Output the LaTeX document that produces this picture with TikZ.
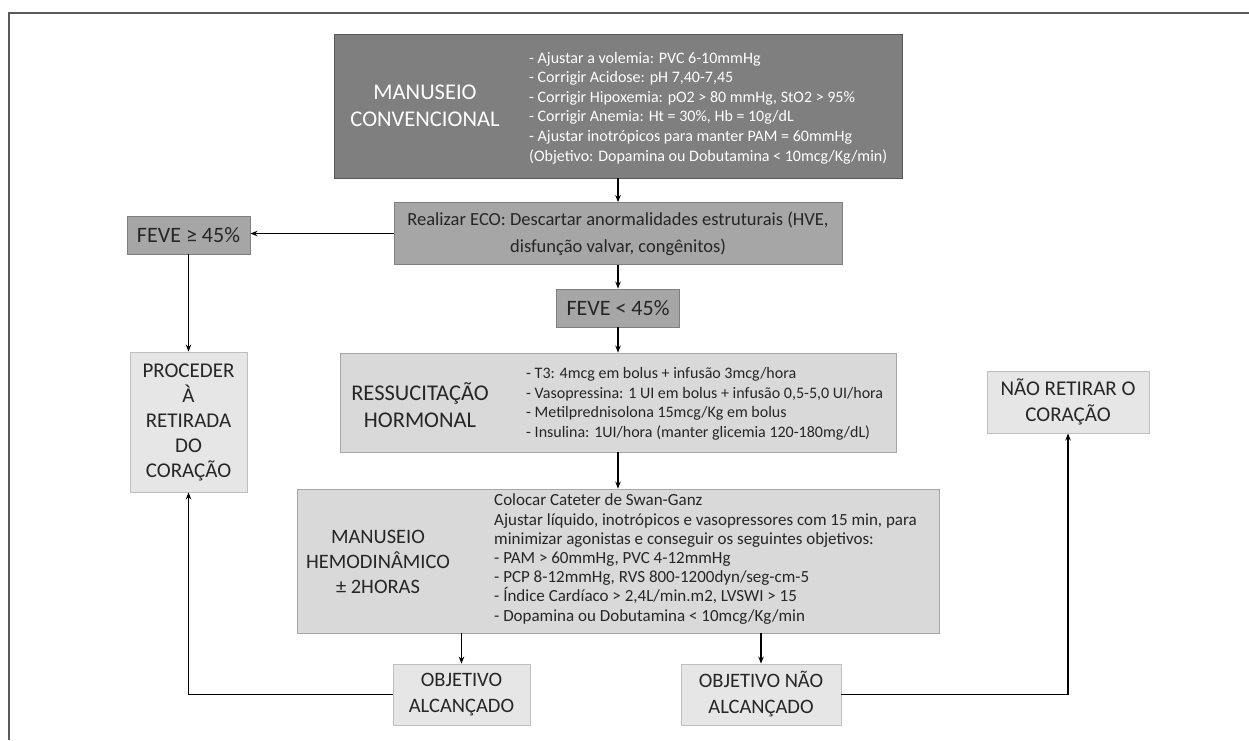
\documentclass[tikz,border=0pt]{standalone}
\usepackage{fontspec}
\setmainfont{Carlito}
\usetikzlibrary{arrows.meta}

\definecolor{inkgray}{HTML}{262626}
\definecolor{framegray}{HTML}{5A5A5A}
\definecolor{darkfill}{HTML}{7F7F7F}
\definecolor{darkedge}{HTML}{595959}
\definecolor{midfill}{HTML}{A6A6A6}
\definecolor{midedge}{HTML}{7F7F7F}
\definecolor{lightfill}{HTML}{D9D9D9}
\definecolor{paleedge}{HTML}{A6A6A6}
\definecolor{palefill}{HTML}{E6E6E6}
\definecolor{paleedge2}{HTML}{BFBFBF}

\tikzset{
  box/.style={draw, line width=0.9pt, inner sep=0pt, rectangle},
  darkbox/.style={box, fill=darkfill, draw=darkedge},
  midbox/.style={box, fill=midfill, draw=midedge},
  lightbox/.style={box, fill=lightfill, draw=paleedge},
  palebox/.style={box, fill=palefill, draw=paleedge2, text=inkgray, align=center},
  title/.style={inner sep=0pt, align=center, font=\fontsize{22.5}{27}\selectfont},
  listtext/.style={inner sep=0pt, anchor=west, align=left, font=\fontsize{16}{19.6}\selectfont},
  link/.style={draw=black, line width=1.1pt, -{Stealth[length=7pt,width=5.5pt]}}
}

\begin{document}
\begin{tikzpicture}[x=1pt,y=-1pt]
\useasboundingbox (0,0) rectangle (1249,740);

% open frame along the top and the left side
\coordinate (frameBL) at (9,740);
\coordinate (frameTL) at (9,13);
\coordinate (frameTR) at (1249,13);
\draw[framegray, line width=1.2pt] (frameBL) -- (frameTL) -- (frameTR);

% conventional management
\node[darkbox, minimum width=568pt, minimum height=144pt] (top) at (618,106) {};
\node[title, text=white] (topTitle) at (425,106) {MANUSEIO\\CONVENCIONAL};
\node[listtext, text=white] (topList) at (529,108) {%
- Ajustar a volemia: PVC 6-10mmHg\\
- Corrigir Acidose: pH 7,40-7,45\\
- Corrigir Hipoxemia: pO2 > 80 mmHg, StO2 > 95\%\\
- Corrigir Anemia: Ht = 30\%, Hb = 10g/dL\\
- Ajustar inotrópicos para manter PAM = 60mmHg\\
(Objetivo: Dopamina ou Dobutamina < 10mcg/Kg/min)};

% echocardiogram
\node[midbox, minimum width=448pt, minimum height=62pt, text=inkgray, align=center,
      font=\fontsize{18.5}{27}\selectfont] (eco) at (618,233.5)
  {Realizar ECO: Descartar anormalidades estruturais (HVE,\\disfunção valvar, congênitos)};

\node[midbox, minimum width=123pt, minimum height=38pt, text=inkgray,
      font=\fontsize{22}{26}\selectfont] (feveHigh) at (188.5,235) {FEVE ≥ 45\%};
\node[midbox, minimum width=123pt, minimum height=38pt, text=inkgray,
      font=\fontsize{22}{26}\selectfont] (feveLow) at (618,308) {FEVE < 45\%};

% hormonal resuscitation
\node[lightbox, minimum width=556pt, minimum height=99pt] (ress) at (618,402.5) {};
\node[title, text=inkgray] (ressTitle) at (420,405) {RESSUCITAÇÃO\\HORMONAL};
\node[listtext, text=inkgray] (ressList) at (526,404) {%
- T3: 4mcg em bolus + infusão 3mcg/hora\\
- Vasopressina: 1 UI em bolus + infusão 0,5-5,0 UI/hora\\
- Metilprednisolona 15mcg/Kg em bolus\\
- Insulina: 1UI/hora (manter glicemia 120-180mg/dL)};

% haemodynamic management
\node[lightbox, minimum width=642pt, minimum height=144pt] (hemo) at (618,561) {};
\node[title, text=inkgray, font=\fontsize{20.5}{25}\selectfont] (hemoTitle) at (378,562)
  {MANUSEIO\\HEMODINÂMICO\\± 2HORAS};
\node[listtext, text=inkgray, font=\fontsize{17}{19.2}\selectfont] (hemoList) at (494,559) {%
Colocar Cateter de Swan-Ganz\\
Ajustar líquido, inotrópicos e vasopressores com 15 min, para\\
minimizar agonistas e conseguir os seguintes objetivos:\\
- PAM > 60mmHg, PVC 4-12mmHg\\
- PCP 8-12mmHg, RVS 800-1200dyn/seg-cm-5\\
- Índice Cardíaco > 2,4L/min.m2, LVSWI > 15\\
- Dopamina ou Dobutamina < 10mcg/Kg/min};

% outcomes
\node[palebox, minimum width=137pt, minimum height=61pt,
      font=\fontsize{20.5}{26}\selectfont] (goalMet) at (461.5,694.5) {OBJETIVO\\ALCANÇADO};
\node[palebox, minimum width=160pt, minimum height=61pt,
      font=\fontsize{20.5}{26}\selectfont] (goalMissed) at (761,694.5) {OBJETIVO NÃO\\ALCANÇADO};

\node[palebox, minimum width=117pt, minimum height=140pt,
      font=\fontsize{21}{25}\selectfont] (retrieve) at (188.5,422) {PROCEDER\\À\\RETIRADA\\DO\\CORAÇÃO};
\node[palebox, minimum width=162pt, minimum height=62pt,
      font=\fontsize{21}{26}\selectfont] (keep) at (1068,402) {NÃO RETIRAR O\\CORAÇÃO};

% connectors
\draw[link] (top.south) -- (eco.north);
\draw[link] (eco.west) -- (eco.west -| feveHigh.east);
\draw[link] (eco.south) -- (feveLow.north);
\draw[link] (feveLow.south) -- (ress.north);
\draw[link] (ress.south) -- (hemo.north);
\draw[link] (feveHigh.south) -- (retrieve.north);
\draw[link] (goalMet.north |- hemo.south) -- (goalMet.north);
\draw[link] (goalMissed.north |- hemo.south) -- (goalMissed.north);
\draw[link] (goalMet.west) -| (retrieve.south);
\draw[link] (goalMissed.east) -| (keep.south);
\end{tikzpicture}
\end{document}
